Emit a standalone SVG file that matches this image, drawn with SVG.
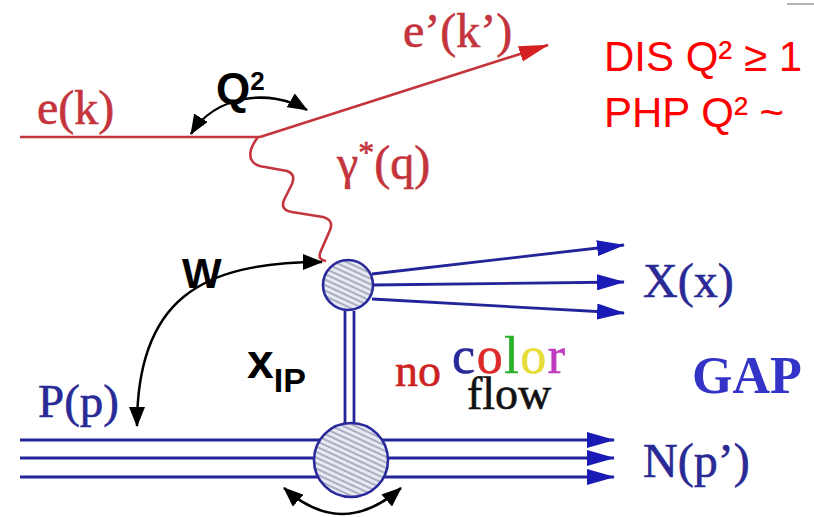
<svg xmlns="http://www.w3.org/2000/svg" width="814" height="517" viewBox="0 0 814 517">
<style>
.serif{font-family:"Liberation Serif","Times New Roman",serif;stroke-width:0.6}
.sans{font-family:"Liberation Sans",Arial,sans-serif}
.bold{font-weight:bold}
.red{fill:#c4343c;stroke:#c4343c}
.blue{fill:#2a2a96;stroke:#2a2a96}
.eline{stroke:#c4343c;stroke-width:2.6;fill:none;stroke-linejoin:round}
.bline{stroke:#24249a;stroke-width:2.8;fill:none}
.karc{stroke:#000;stroke-width:2.5;fill:none}
.blob{fill:url(#hatch);stroke:#2a2a9a;stroke-width:2.6}
</style>
<defs>
<pattern id="hatch" width="5" height="5" patternUnits="userSpaceOnUse" patternTransform="rotate(25)">
<rect width="5" height="5" fill="#e6eaf4"/>
<line x1="0" y1="1" x2="5" y2="1" stroke="#8c8ca2" stroke-width="1.3"/>
</pattern>
<marker id="ab" markerUnits="userSpaceOnUse" markerWidth="28" markerHeight="16" refX="27" refY="8" orient="auto">
<path d="M0,0 L28,8 L0,16 z" fill="#1a1ab4"/>
</marker>
<marker id="ar" markerUnits="userSpaceOnUse" markerWidth="30" markerHeight="18" refX="29" refY="9" orient="auto">
<path d="M0,1 L30,9 L0,17 z" fill="#d42020"/>
</marker>
<marker id="ak" markerUnits="userSpaceOnUse" markerWidth="20" markerHeight="16" refX="19" refY="8" orient="auto-start-reverse">
<path d="M0,0 L20,8 L0,16 z" fill="#000"/>
</marker>
</defs>
<rect width="814" height="517" fill="#fff"/>
<line x1="787" y1="4" x2="814" y2="4" stroke="#999" stroke-width="1.5"/>

<g id="connectors">
<line class="eline" x1="20" y1="137" x2="260" y2="137"/>
<line class="eline" x1="260" y1="137" x2="548" y2="45" marker-end="url(#ar)"/>
<path id="photon" class="eline" d="M258,137 Q248,150 251,159 Q254,166 265,167 L287,171 Q296,174 292,184 L284,200 Q280,210 292,212 L323,217 Q334,220 330,230 L320,253 Q318,260 326,261"/>
<line class="bline" x1="345" y1="311" x2="345" y2="423"/>
<line class="bline" x1="354" y1="311" x2="354" y2="423"/>
<line class="bline" x1="372" y1="274" x2="624" y2="245" marker-end="url(#ab)"/>
<line class="bline" x1="372" y1="285" x2="624" y2="282" marker-end="url(#ab)"/>
<line class="bline" x1="372" y1="299" x2="624" y2="313" marker-end="url(#ab)"/>
<line class="bline" x1="20" y1="440" x2="614" y2="440" marker-end="url(#ab)"/>
<line class="bline" x1="20" y1="458" x2="614" y2="458" marker-end="url(#ab)"/>
<line class="bline" x1="20" y1="477" x2="614" y2="477" marker-end="url(#ab)"/>
<path class="karc" d="M191,134 C215,95 270,88 307,110" marker-start="url(#ak)" marker-end="url(#ak)"/>
<path class="karc" d="M137,426 C137,300 200,262 322,262" marker-start="url(#ak)" marker-end="url(#ak)"/>
<path class="karc" d="M284,488 Q342,540 401,488" marker-start="url(#ak)" marker-end="url(#ak)"/>
</g>

<g id="blob-top"><circle class="blob" cx="348" cy="285" r="25"/></g>
<g id="blob-bottom"><circle class="blob" cx="351" cy="460" r="37"/></g>

<g id="labels">
<text class="serif red" x="37" y="124" font-size="48">e(k)</text>
<text class="serif red" x="403" y="47" font-size="48">e’(k’)</text>
<text class="serif red" x="337" y="179" font-size="48">γ<tspan font-size="32" dy="-16">*</tspan><tspan dy="16">(q)</tspan></text>
<text class="serif blue" x="643" y="297" font-size="48">X(x)</text>
<text class="serif blue" x="643" y="477" font-size="48">N(p’)</text>
<text class="serif blue" x="38" y="417" font-size="47">P(p)</text>
<text class="serif bold" x="692" y="393" font-size="52" fill="#3333c8">GAP</text>
<text class="serif" x="395" y="386" font-size="46" fill="#cc2222" stroke="#cc2222">no</text>
<text class="serif" x="452" y="373" font-size="52" textLength="113"><tspan fill="#28289a" stroke="#28289a">c</tspan><tspan fill="#dd2a2a" stroke="#dd2a2a">o</tspan><tspan fill="#2ab02a" stroke="#2ab02a">l</tspan><tspan fill="#e6dc3a" stroke="#e6dc3a">o</tspan><tspan fill="#c03ac0" stroke="#c03ac0">r</tspan></text>
<text class="serif" x="467" y="409" font-size="46" fill="#111" stroke="#111">flow</text>
<text class="sans bold" x="182" y="288" font-size="42">W</text>
<text class="sans bold" x="247" y="378" font-size="48">x<tspan font-size="34" dy="14">IP</tspan></text>
<text class="sans bold" x="216" y="104" font-size="44">Q<tspan font-size="26" dy="-14">2</tspan></text>
<text class="sans" x="604" y="71" font-size="42" fill="#ff0000">DIS Q² ≥ 1</text>
<text class="sans" x="604" y="127" font-size="42" fill="#ff0000">PHP Q² ~</text>
</g>
</svg>
